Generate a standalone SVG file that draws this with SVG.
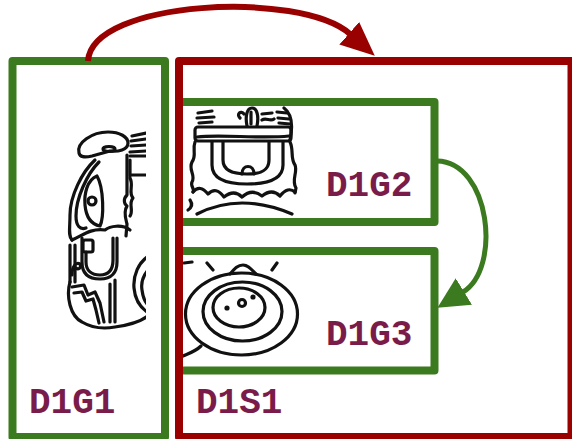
<svg xmlns="http://www.w3.org/2000/svg" width="572" height="439" viewBox="0 0 572 439">
<style>
.gbox{fill:none;stroke:#3b7a1e;stroke-width:8;stroke-linejoin:round}
.rbox{fill:none;stroke:#990000;stroke-width:8;stroke-linejoin:round}
.lbl{font-family:"Liberation Mono","DejaVu Sans Mono",monospace;font-weight:bold;font-size:36px;fill:#7a1c4a}
.ink{fill:none;stroke:#111;stroke-width:3.2;stroke-linecap:round;stroke-linejoin:round}
.dot{fill:#111}
</style>
<defs>
<marker id="ahR" markerUnits="userSpaceOnUse" markerWidth="34" markerHeight="31" refX="1" refY="15" orient="auto"><path d="M0,0 L34,15 L0,30 Z" fill="#990000"/></marker>
<marker id="ahG" markerUnits="userSpaceOnUse" markerWidth="32" markerHeight="32" refX="1" refY="15.5" orient="auto"><path d="M0,0 L31,15.5 L0,31 Z" fill="#3b7a1e"/></marker>
<clipPath id="c1"><rect x="17" y="65" width="129" height="368"/></clipPath>
<clipPath id="c2"><rect x="183" y="106" width="247" height="112"/></clipPath>
<clipPath id="c3"><rect x="183" y="255" width="247" height="111"/></clipPath>
</defs>

<g id="D1G1">
<g clip-path="url(#c1)">
<path class="ink" d="M79,153 C76,143 92,132 108,132 C120,132 128,137 128,143 C128,150 118,152 110,151 L92,156 C84,158 80,157 79,153 Z"/>
<ellipse class="ink" cx="109" cy="149" rx="6" ry="2.5"/>
<path class="ink" d="M95,160 C82,172 70,196 70,215 C70,228 68,236 72,240"/>
<path class="ink" d="M99,162 C87,174 76,198 76,216 C76,226 80,230 86,228"/>
<path class="ink" d="M97,176 C87,180 84,194 85,205 C86,216 90,224 100,226 C104,218 104,188 97,176 Z"/>
<circle class="ink" cx="92" cy="201" r="4"/>
<path class="ink" d="M127,155 L127,195 C123,199 124,204 127,206 C123,212 126,220 127,224 L126,236"/>
<path class="ink" d="M132,136 L146,133 M131,141 L146,139 M131,146 L146,145 M130,152 L146,151"/>
<path class="ink" d="M130,156 L146,156 M130,160 L130,176 M130,175 L146,175"/>
<path class="ink" d="M130,178 C134,186 128,192 133,198 C128,204 134,210 130,216"/>
<path class="ink" d="M72,240 C82,236 90,228 105,230 C110,226 122,224 130,230"/>
<rect class="ink" x="83" y="240" width="10" height="12" rx="2"/>
<path class="ink" d="M82,238 L82,262 C82,275 90,279 100,279 C112,279 117,272 117,262 L117,238"/>
<path class="ink" d="M86,252 L86,262 C86,271 92,275 100,275 C110,275 113,268 113,260 L113,238"/>
<path class="ink" d="M70,245 L70,282 M75,245 L75,282"/>
<path class="ink" d="M72,275 C72,266 76,262 80,264 C82,268 78,270 76,268"/>
<path class="ink" d="M70,282 C66,296 70,316 82,322 C92,328 104,329 115,327 C130,325 142,322 150,314"/>
<path class="ink" d="M72,287 L84,285 L88,295 L95,292 L100,303 L104,322"/>
<path class="ink" d="M74,293 L82,292 L86,301 L93,299 L96,310 L99,323"/>
<path class="ink" d="M115,280 L115,322 M110,284 L110,322"/>
<path class="ink" d="M150,255 C138,262 133,276 134,288 C135,300 140,308 150,314"/>
<path class="ink" d="M148,270 C143,276 141,284 142,290 C143,298 145,302 148,305"/>
</g>
<rect class="gbox" x="12.5" y="61" width="152.5" height="376"/>
<text class="lbl" x="29" y="413">D1G1</text>
</g>

<g id="D1S1">
<g id="D1G2">
<g clip-path="url(#c2)">
<path class="ink" d="M198,113 L212,111 M197,118 L214,117 M199,123 L212,122"/>
<path class="ink" d="M247,126 C245,116 247,108 252,108 C257,108 259,116 257,126 M251,112 L251,124"/>
<path class="ink" d="M240,118 C236,114 241,110 244,114 M262,114 L272,113 M262,120 C266,117 270,122 274,119"/>
<path class="ink" d="M277,112 L287,113 M278,118 L289,119 M279,123 L290,124"/>
<path class="ink" d="M284,108 C292,114 293,126 290,140"/>
<rect class="ink" x="195" y="127" width="96" height="14" rx="3"/>
<path class="ink" d="M197,137 C220,134 260,139 289,136"/>
<path class="ink" d="M212,142 L212,165 C212,178 225,184 247,184 C270,184 283,178 283,165 L283,142"/>
<path class="ink" d="M223,142 L223,160 C223,170 232,174 247,174 C262,174 269,170 269,160 L269,142"/>
<path class="ink" d="M242,174 C242,164 254,164 254,174"/>
<path class="ink" d="M195,142 C192,150 197,155 192,162 C188,170 196,175 192,182 C190,186 195,189 193,192"/>
<path class="ink" d="M290,142 C294,150 290,158 295,165 C298,172 291,180 296,188 L295,193"/>
<path class="ink" d="M193,192 Q200,184 208,194 Q216,186 224,197 Q234,189 242,197 Q252,188 262,196 Q272,188 280,196 Q288,186 295,192"/>
<path class="ink" d="M197,214 Q240,192 292,214"/>
<path class="ink" d="M190,200 Q194,206 188,210"/>
</g>
<rect class="gbox" x="179" y="102" width="255.5" height="120"/>
<text class="lbl" x="326" y="196">D1G2</text>
</g>
<g id="D1G3">
<g clip-path="url(#c3)">
<path class="ink" d="M207,263 L213,270 M272,270 L277,263 M184,263 L192,262"/>
<path class="ink" d="M230,274 C235,268 238,265 243,265 C248,265 251,269 256,274"/>
<ellipse class="ink" cx="241.5" cy="314" rx="56" ry="41"/>
<ellipse class="ink" cx="242.5" cy="311.5" rx="39.5" ry="29.5"/>
<ellipse class="ink" cx="239" cy="307.5" rx="26" ry="19.5"/>
<circle class="ink" cx="242" cy="303" r="3.5"/>
<circle class="dot" cx="227" cy="308" r="2.6"/>
<circle class="dot" cx="253" cy="297" r="2.6"/>
<path class="ink" d="M183,356 C190,353 196,351 201,346"/>
</g>
<rect class="gbox" x="179" y="251" width="255.5" height="119.5"/>
<text class="lbl" x="326" y="345">D1G3</text>
</g>
<rect class="rbox" x="179" y="61" width="392.5" height="376"/>
<text class="lbl" x="196" y="413">D1S1</text>
</g>

<g id="connectors">
<path d="M88,61 C92,0 300,-10 350,34" fill="none" stroke="#990000" stroke-width="6" marker-end="url(#ahR)"/>
<path d="M437,161 C490,162 502,268 463,292" fill="none" stroke="#3b7a1e" stroke-width="5" marker-end="url(#ahG)"/>
</g>
</svg>
